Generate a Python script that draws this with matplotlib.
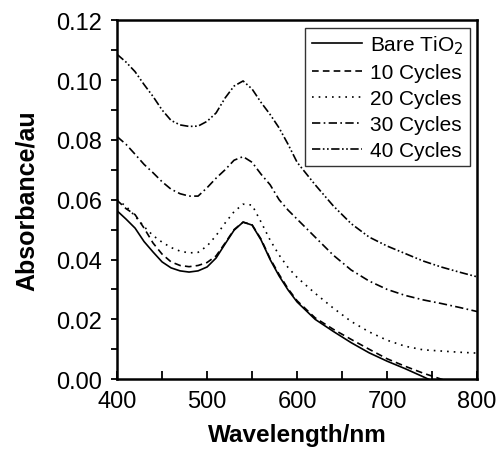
import numpy as np
import matplotlib.pyplot as plt
from matplotlib.ticker import MultipleLocator

plt.rcParams['font.family'] = ['Liberation Sans', 'DejaVu Sans']

# Wavelength grid (nm)
wavelength = [400, 410, 420, 430, 440, 450, 460, 470, 480, 490, 500,
              510, 520, 530, 540, 550, 560, 570, 580, 590, 600,
              620, 640, 660, 680, 700, 720, 740, 760, 780, 800]

bare_tio2 = [0.0563, 0.0535, 0.0505, 0.0460, 0.0425, 0.0392, 0.0372, 0.0362, 0.0358, 0.0362, 0.0375,
             0.0405, 0.0452, 0.0498, 0.0525, 0.0515, 0.0465, 0.0400, 0.0345, 0.0298, 0.0258,
             0.0200, 0.0160, 0.0122, 0.0088, 0.0060, 0.0035, 0.0008, -0.0020, -0.0040, -0.0060]
cycles_10 = [0.0598, 0.0570, 0.0550, 0.0505, 0.0455, 0.0418, 0.0392, 0.0380, 0.0376, 0.0380, 0.0390,
             0.0412, 0.0455, 0.0500, 0.0525, 0.0516, 0.0468, 0.0403, 0.0350, 0.0302, 0.0262,
             0.0205, 0.0167, 0.0133, 0.0100, 0.0068, 0.0043, 0.0020, 0.0000, -0.0020, -0.0040]
cycles_20 = [0.0600, 0.0578, 0.0545, 0.0510, 0.0480, 0.0458, 0.0440, 0.0428, 0.0422, 0.0424, 0.0445,
             0.0480, 0.0522, 0.0560, 0.0585, 0.0582, 0.0525, 0.0465, 0.0415, 0.0373, 0.0340,
             0.0287, 0.0238, 0.0193, 0.0158, 0.0130, 0.0110, 0.0098, 0.0094, 0.0090, 0.0087]
cycles_30 = [0.0811, 0.0785, 0.0752, 0.0718, 0.0690, 0.0660, 0.0635, 0.0620, 0.0612, 0.0612, 0.0640,
             0.0672, 0.0700, 0.0732, 0.0744, 0.0725, 0.0685, 0.0650, 0.0600, 0.0565, 0.0535,
             0.0475, 0.0415, 0.0365, 0.0328, 0.0300, 0.0280, 0.0265, 0.0253, 0.0240, 0.0226]
cycles_40 = [0.1086, 0.1060, 0.1028, 0.0985, 0.0945, 0.0900, 0.0865, 0.0850, 0.0845, 0.0846, 0.0862,
             0.0890, 0.0940, 0.0980, 0.0997, 0.0970, 0.0925, 0.0885, 0.0840, 0.0785, 0.0725,
             0.0650, 0.0580, 0.0520, 0.0475, 0.0445, 0.0420, 0.0395, 0.0375, 0.0358, 0.0342]

labels = ['Bare TiO$_2$', '10 Cycles', '20 Cycles', '30 Cycles', '40 Cycles']
styles = ['-', (0, (4, 2.5)), (0, (1, 3)), (0, (5, 2, 1, 2)), (0, (5, 1.5, 1, 1.5, 1, 1.5))]

fig = plt.figure(figsize=(4.96, 4.52), dpi=100)
ax = fig.add_axes([0.236, 0.159, 0.726, 0.794])

for series, label, ls in zip([bare_tio2, cycles_10, cycles_20, cycles_30, cycles_40], labels, styles):
    ax.plot(wavelength, series, color='black', linestyle=ls, linewidth=1.2, label=label)

ax.set_xlim(400, 800)
ax.set_ylim(0, 0.12)
ax.xaxis.set_major_locator(MultipleLocator(100))
ax.xaxis.set_minor_locator(MultipleLocator(50))
ax.yaxis.set_major_locator(MultipleLocator(0.02))
ax.yaxis.set_minor_locator(MultipleLocator(0.01))
ax.yaxis.set_major_formatter(plt.FormatStrFormatter('%.2f'))

ax.tick_params(axis='x', which='both', direction='in', length=6, width=1.3, labelsize=17, pad=8)
ax.tick_params(axis='y', which='both', direction='out', length=4, width=1.3, labelsize=17, pad=7)
for sp in ax.spines.values():
    sp.set_linewidth(1.8)

ax.set_xlabel('Wavelength/nm', fontsize=17.5, fontweight='bold', labelpad=8)
ax.set_ylabel('Absorbance/au', fontsize=18, fontweight='bold', labelpad=12)

leg = ax.legend(loc='upper right', fontsize=15, frameon=True, fancybox=False,
                edgecolor='black', handlelength=2.4, borderpad=0.3, labelspacing=0.33,
                handletextpad=0.4, borderaxespad=0.35)
leg.get_frame().set_linewidth(1.0)

plt.savefig('out.png', dpi=100)
